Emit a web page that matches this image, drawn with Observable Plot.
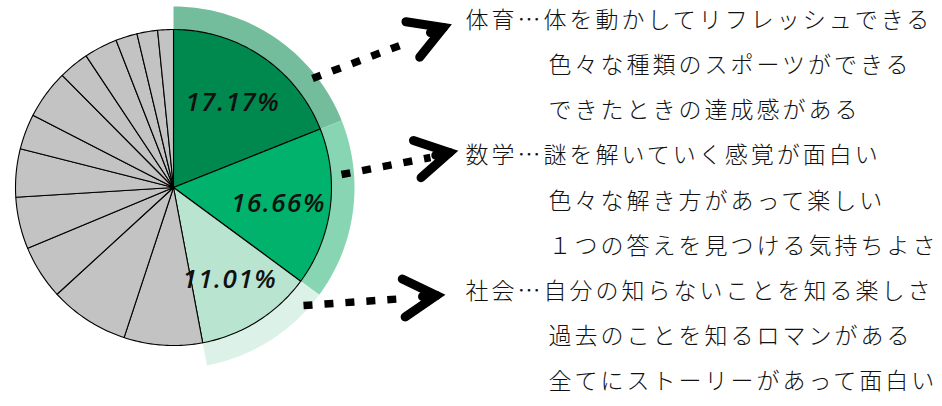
<!DOCTYPE html>
<html><head><meta charset="utf-8">
<script src="https://cdn.jsdelivr.net/npm/d3@7"></script>
<script src="https://cdn.jsdelivr.net/npm/@observablehq/plot@0.6"></script>
<style>
html,body{margin:0;padding:0;background:#fff;}
#chart svg{display:block;}
</style></head><body><div id="chart"></div>
<script>
// ---- data ----
const subjects = ["体育","数学","社会","教科4","教科5","教科6","教科7","教科8","教科9","教科10","教科11","教科12","教科13","教科14","教科15"];
const shares = [18.9,16.1,11.9,8.0,8.1,5.5,5.3,4.9,3.6,5.0,3.1,3.4,2.2,2.1,1.6];
const shareLabels = ["17.17%","16.66%","11.01%"];
const sliceColors = ["#00894f","#00b26b","#b9e5d0"];
const ringColors = ["#74bd9c","#87d5b3","#dcf2e8"];
const otherColor = "#c3c3c3";
const reasonHeads = ["体育…","数学…","社会…"];
const reasons = [
  ["体を動かしてリフレッシュできる","色々な種類のスポーツができる","できたときの達成感がある"],
  ["謎を解いていく感覚が面白い","色々な解き方があって楽しい","１つの答えを見つける気持ちよさ"],
  ["自分の知らないことを知る楽しさ","過去のことを知るロマンがある","全てにストーリーがあって面白い"]
];

// ---- layout ----
const W = 942, H = 406, cx = 173, cy = 187, R = 158, ringR = 181;
const ux = px => (px - cx) / R, uy = py => (py - cy) / R;
const textX0 = 465, textX1 = 548, rowY0 = 20, rowGap = 45.2;
const arrowGeo = [ // shaft start, shaft end, tip (px)
  [[312,78],[410,41],[443,27]],
  [[341,174],[430,157],[449,152]],
  [[303,305],[405,298],[436,295]]
];

const pie = d3.pie().sort(null).startAngle(0).endAngle(2*Math.PI)(shares);
function arcPts(a0, a1, r) {
  const n = Math.max(2, Math.ceil((a1 - a0) / (Math.PI / 180)));
  return d3.range(n + 1).map(i => { const a = a0 + (a1 - a0) * i / n; return {x: r*Math.sin(a), y: -r*Math.cos(a)}; });
}

const marks = [];
// outer rings for top three
pie.slice(0, 3).forEach((p, i) => {
  const pts = [...arcPts(p.startAngle, p.endAngle, ringR / R), ...arcPts(p.startAngle, p.endAngle, 1).reverse()];
  marks.push(Plot.line(pts, {x: "x", y: "y", fill: ringColors[i], stroke: "none", curve: "linear-closed"}));
});
// slices
pie.forEach((p, i) => {
  const pts = [{x: 0, y: 0}, ...arcPts(p.startAngle, p.endAngle, 1)];
  marks.push(Plot.line(pts, {x: "x", y: "y", fill: i < 3 ? sliceColors[i] : otherColor, stroke: "#000", strokeWidth: 1.1, strokeLinejoin: "round", curve: "linear-closed"}));
});
// percentage labels (slightly beyond the centroid, nudged down)
const labelData = pie.slice(0, 3).map((p, i) => {
  const a = (p.startAngle + p.endAngle) / 2, r = 0.67;
  return {x: r*Math.sin(a), y: -r*Math.cos(a), t: shareLabels[i]};
});
marks.push(Plot.text(labelData, {x: "x", y: "y", text: "t", dy: 3, fontFamily: "Open Sans", fontStyle: "italic", fontWeight: 600, fontSize: 26, fill: "#111"}));

// arrows
const shafts = arrowGeo.map(([s, e]) => ({x1: ux(s[0]), y1: uy(s[1]), x2: ux(e[0]), y2: uy(e[1])}));
marks.push(Plot.link(shafts, {x1: "x1", y1: "y1", x2: "x2", y2: "y2", stroke: "#000", strokeWidth: 7.5, strokeDasharray: "9,12", strokeLinecap: "butt"}));
const heads = [];
arrowGeo.forEach(([s, e, t], k) => {
  const ang = Math.atan2(t[1] - s[1], t[0] - s[0]);
  const back = ang + Math.PI, L = 38, wa = Math.PI / 6;
  const w1 = [t[0] + L*Math.cos(back - wa), t[1] + L*Math.sin(back - wa)];
  const w2 = [t[0] + L*Math.cos(back + wa), t[1] + L*Math.sin(back + wa)];
  const stub = [t[0] + 14*Math.cos(back), t[1] + 14*Math.sin(back)];
  [w1, t, w2].forEach(p => heads.push({g: "h" + k, x: ux(p[0]), y: uy(p[1])}));
  [stub, t].forEach(p => heads.push({g: "s" + k, x: ux(p[0]), y: uy(p[1])}));
});
marks.push(Plot.line(heads, {x: "x", y: "y", z: "g", stroke: "#000", strokeWidth: 9, strokeLinejoin: "miter", strokeMiterlimit: 4, strokeLinecap: "round"}));

// description text
const rows = [];
reasons.forEach((lines, g) => lines.forEach((line, k) => {
  const idx = g * 3 + k;
  rows.push({x: ux(k === 0 ? textX0 : textX1), y: uy(rowY0 + rowGap * idx), t: k === 0 ? reasonHeads[g] + line : line});
}));
marks.push(Plot.text(rows, {x: "x", y: "y", text: "t", textAnchor: "start", fontFamily: "Noto Sans CJK JP", fontWeight: 300, fontSize: 23, fill: "#111"}));

const chart = Plot.plot({
  width: W, height: H, margin: 0,
  x: {domain: [-1, 1], range: [cx - R, cx + R], axis: null},
  y: {domain: [-1, 1], range: [cy - R, cy + R], axis: null},
  style: {background: "#fff", overflow: "visible"},
  marks
});
d3.select(chart).selectAll("text").each(function() {
  const t = this.textContent;
  if (shareLabels.includes(t)) this.setAttribute("letter-spacing", "1.5px");
  else if (rows.some(r => r.t === t)) this.setAttribute("letter-spacing", "3px");
});
document.getElementById("chart").append(chart);
</script></body></html>
